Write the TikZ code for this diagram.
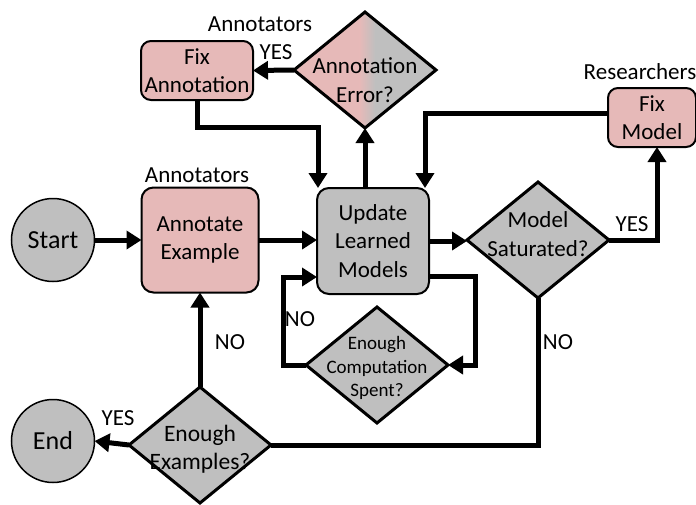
\documentclass[tikz,border=0pt]{standalone}
\usepackage{fontspec}
\setmainfont{Carlito}
\usetikzlibrary{shapes.geometric,arrows.meta}

\definecolor{boxpink}{HTML}{E6B9B8}
\definecolor{boxgray}{HTML}{BFBFBF}

\begin{document}
\begin{tikzpicture}[x=1pt,y=-1pt,
  every node/.style={font=\fontsize{23}{28.5}\selectfont, inner sep=0pt, outer sep=0pt},
  flowline/.style={line width=5pt, -{Triangle[length=15pt,width=18pt]}},
  plainline/.style={line width=5pt},
  procbox/.style={draw, line width=2pt, rounded corners=12pt, align=center},
  terminal/.style={draw, circle, line width=1.5pt, fill=boxgray, minimum size=83pt, font=\fontsize{26}{30}\selectfont},
  decision/.style={draw, diamond, line width=3pt, minimum width=142pt, minimum height=116pt},
  dtext/.style={align=center},
  smalltext/.style={align=center, font=\fontsize{19}{23.5}\selectfont}
]
\useasboundingbox (0,0) rectangle (696,504);

% shapes
\node[terminal] (start) at (53,240) {Start};
\node[procbox, fill=boxpink, minimum width=117pt, minimum height=105pt] (annot) at (200,240) {Annotate\\Example};
\node[procbox, fill=boxgray, minimum width=112pt, minimum height=106pt] (update) at (373,241) {Update\\Learned\\Models};
\node[decision, fill=boxgray] (sat) at (538,240) {};
\node[procbox, fill=boxpink, rounded corners=10pt, minimum width=88pt, minimum height=59pt] (fixmodel) at (652,117.5) {Fix\\Model};
\node[procbox, fill=boxpink, rounded corners=10pt, minimum width=112pt, minimum height=59pt] (fixann) at (197,70.5) {Fix\\Annotation};
\node[decision, path picture={
    \fill[boxpink] (path picture bounding box.south west) rectangle ([xshift=-5pt]path picture bounding box.north);
    \shade[left color=boxpink, right color=boxgray] ([xshift=-5.5pt]path picture bounding box.south) rectangle ([xshift=10pt]path picture bounding box.north);
    \fill[boxgray] ([xshift=9.5pt]path picture bounding box.south) rectangle (path picture bounding box.north east);
  }] (err) at (365,70) {};
\node[decision, fill=boxgray] (comp) at (377,365) {};
\node[terminal] (end) at (53,441) {End};
\node[decision, fill=boxgray] (exs) at (200,445) {};

% connectors
\coordinate (bendA) at (318,127);
\draw[flowline] (start) -- (annot);
\draw[flowline] (annot.east) -- (annot.east -| update.west);
\draw[flowline] (update.east) -- (update.east -| sat.west);
\draw[flowline] (sat.east) -| ([xshift=5pt]fixmodel.south);
\draw[flowline] ([yshift=4pt]fixmodel.west) -| ([xshift=-4pt]update.north east);
\draw[flowline] (update.north -| err.south) -- (err.south);
\draw[flowline] (err.west) -- (fixann.east);
\draw[flowline] (fixann.south) |- (bendA) -- (bendA |- update.north);
\draw[flowline] ([yshift=-35pt]update.east) -- ++(46,0) |- (comp.east);
\draw[flowline] (comp.west) -- ++(-23,0) |- ([yshift=-36pt]update.west);
\draw[flowline] (exs.north) -- (annot.south);
\draw[flowline] (exs.west) -- (end.east);
\draw[plainline] (sat.south) |- (exs.east);

% diamond texts
\node[dtext] (errtext) at (365,80) {Annotation\\Error?};
\node[dtext] (sattext) at (538,234) {Model\\Saturated?};
\node[dtext, font=\fontsize{23.5}{28}\selectfont] (exstext) at (200,449) {Enough\\Examples?};
\node[smalltext] (comptext) at (377,368) {Enough\\Computation\\Spent?};

% role and branch labels
\node (roleA) at (260,24) {Annotators};
\node (roleB) at (197,175) {Annotators};
\node (roleC) at (640,72) {Researchers};
\node (yesA) at (276,52) {YES};
\node (yesB) at (632,224) {YES};
\node (yesC) at (118,418) {YES};
\node (noA) at (300,319) {NO};
\node (noB) at (230,342) {NO};
\node (noC) at (558,342) {NO};
\end{tikzpicture}
\end{document}
